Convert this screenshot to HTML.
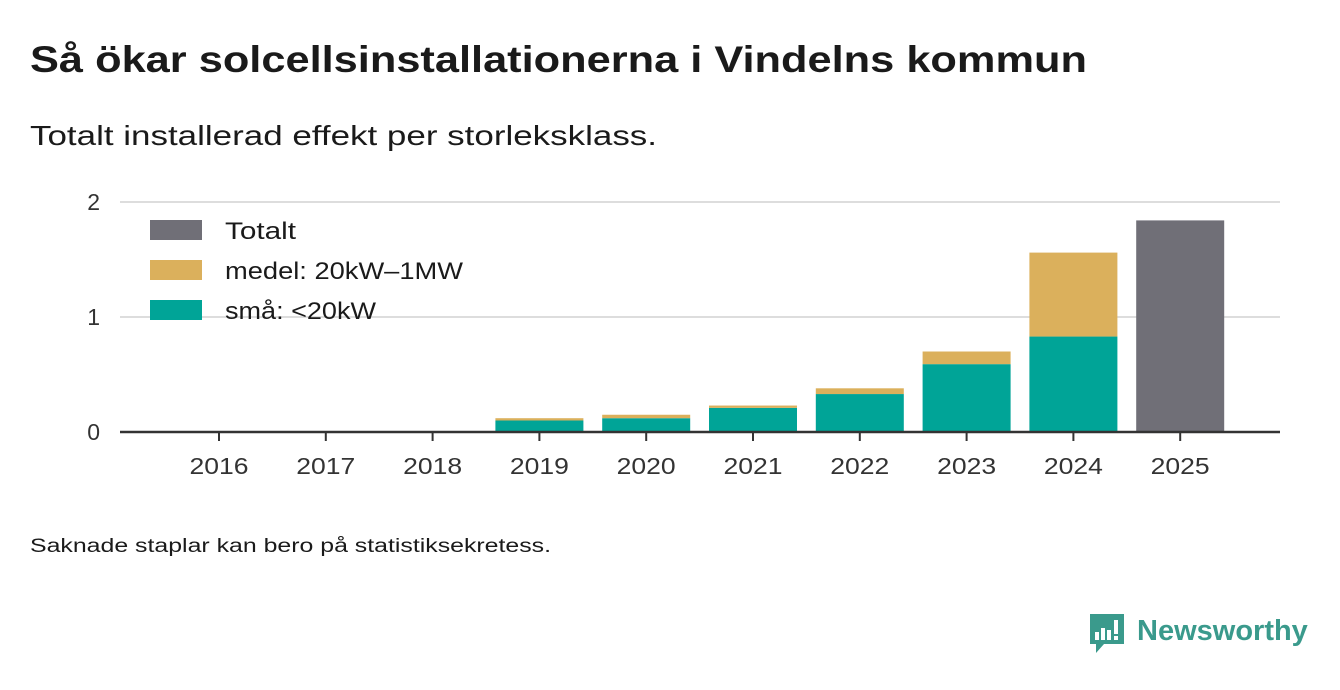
<!DOCTYPE html>
<html><head><meta charset="utf-8"><style>
body{margin:0;background:#fff;font-family:"Liberation Sans",sans-serif;}
</style></head><body>
<svg width="1340" height="685" xmlns="http://www.w3.org/2000/svg" font-family="Liberation Sans, sans-serif">
<text x="30" y="72" font-size="37" font-weight="bold" fill="#1a1a1a" textLength="1057" lengthAdjust="spacingAndGlyphs">Så ökar solcellsinstallationerna i Vindelns kommun</text>
<text x="30" y="145" font-size="28" fill="#1a1a1a" textLength="627" lengthAdjust="spacingAndGlyphs">Totalt installerad effekt per storleksklass.</text>
<g id="grid"></g>
<g id="bars"></g>
<g id="axis"></g>
<g>
<rect x="150" y="220" width="52" height="20" fill="#706f77"/>
<text x="225" y="239" font-size="24" fill="#1a1a1a" textLength="71" lengthAdjust="spacingAndGlyphs">Totalt</text>
<rect x="150" y="260" width="52" height="20" fill="#dbb05c"/>
<text x="225" y="279" font-size="24" fill="#1a1a1a" textLength="238" lengthAdjust="spacingAndGlyphs">medel: 20kW–1MW</text>
<rect x="150" y="300" width="52" height="20" fill="#00a497"/>
<text x="225" y="319" font-size="24" fill="#1a1a1a" textLength="151" lengthAdjust="spacingAndGlyphs">små: &lt;20kW</text>
</g>
<text x="30" y="552" font-size="19" fill="#1a1a1a" textLength="521" lengthAdjust="spacingAndGlyphs">Saknade staplar kan bero på statistiksekretess.</text>
<g>
<path d="M1090 614 h34 v30 h-20 l-8 9 v-9 h-6 z" fill="#3a9a8c"/>
<rect x="1095" y="632" width="4" height="8" fill="#fff"/><rect x="1101" y="628" width="4" height="12" fill="#fff"/><rect x="1107" y="630" width="4" height="10" fill="#fff"/><rect x="1114" y="620" width="4" height="14" fill="#fff"/><rect x="1114" y="636" width="4" height="4" fill="#fff"/>
<text x="1137" y="640" font-size="29" font-weight="bold" fill="#3a9a8c">Newsworthy</text>
</g>
</svg>
<script>
const years=["2016","2017","2018","2019","2020","2021","2022","2023","2024","2025"];
const small=[0,0,0,0.10,0.12,0.21,0.33,0.59,0.83,0];
const medium=[0,0,0,0.02,0.03,0.02,0.05,0.11,0.73,0];
const total=[0,0,0,0,0,0,0,0,0,1.84];
const yTicks=[0,1,2];
const NS="http://www.w3.org/2000/svg";
const y=v=>432-v*115;
const x=i=>219+i*106.8;
const bw=88;
function mk(tag,attrs,parent){const e=document.createElementNS(NS,tag);for(const k in attrs)e.setAttribute(k,attrs[k]);document.getElementById(parent).appendChild(e);return e;}
yTicks.forEach(t=>{
 if(t>0){const l=mk('line',{x1:120,x2:1280,y1:y(t),y2:y(t),stroke:'#dddddd','stroke-width':2},'grid');
 
 }
 const tx=mk('text',{x:100,y:y(t)+8,'font-size':23,fill:'#333','text-anchor':'end'},'axis');tx.textContent=t;
 
 
});
years.forEach((yr,i)=>{
 const cx=x(i);
 if(small[i]>0){const r=mk('rect',{x:cx-bw/2,y:y(small[i]),width:bw,height:y(0)-y(small[i]),fill:'#00a497'},'bars');
 
 }
 if(medium[i]>0){const r=mk('rect',{x:cx-bw/2,y:y(small[i]+medium[i]),width:bw,height:y(small[i])-y(small[i]+medium[i]),fill:'#dbb05c'},'bars');
 
 }
 if(total[i]>0){const r=mk('rect',{x:cx-bw/2,y:y(total[i]),width:bw,height:y(0)-y(total[i]),fill:'#706f77'},'bars');
 
 }
 const tk=mk('line',{x1:cx,x2:cx,y1:432,y2:441,stroke:'#333','stroke-width':2},'axis');
 
 
 const t=mk('text',{x:cx,y:474,'font-size':23,fill:'#333','text-anchor':'middle',textLength:59,lengthAdjust:'spacingAndGlyphs'},'axis');t.textContent=yr;
 
 
});
const ax=mk('line',{x1:120,x2:1280,y1:432,y2:432,stroke:'#333','stroke-width':2.5},'axis');


</script>
</body></html>
